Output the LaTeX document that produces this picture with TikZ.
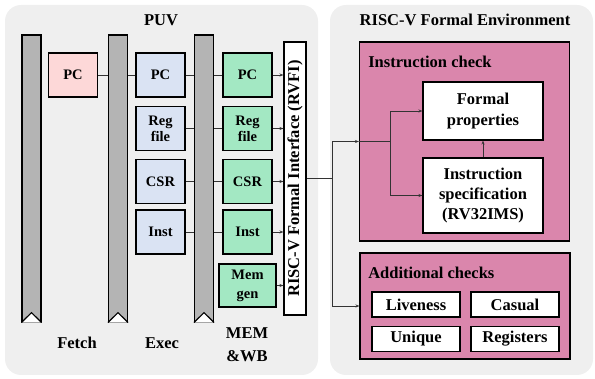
\documentclass[tikz,border=0pt]{standalone}
\usepackage{fontspec}
\setmainfont{Liberation Serif}
\usetikzlibrary{arrows.meta,calc,positioning}
\definecolor{panelgray}{HTML}{EFEFEF}
\definecolor{bargray}{HTML}{B4B4B4}
\definecolor{fetchpink}{HTML}{FDD8D8}
\definecolor{execblue}{HTML}{DAE3F3}
\definecolor{memgreen}{HTML}{A3E8C3}
\definecolor{checkpink}{HTML}{DA86AC}

\begin{document}
\begin{tikzpicture}[x=1pt,y=-1pt,
font=\bfseries\fontsize{16.5}{20}\selectfont,
panel/.style={draw=none,fill=panelgray,rounded corners=16pt,inner sep=0pt},
bar/.style={draw=black,line width=1.1pt,fill=bargray,minimum width=19pt,minimum height=287pt,inner sep=0pt},
reg/.style={draw=black,line width=1.1pt,minimum width=49pt,minimum height=44pt,inner sep=1pt,align=center,font=\bfseries\fontsize{14.5}{16}\selectfont},
fet/.style={reg,fill=fetchpink},
exe/.style={reg,fill=execblue},
mem/.style={reg,fill=memgreen},
chk/.style={draw=black,line width=1.1pt,fill=checkpink,minimum width=210pt,inner sep=0pt},
wbox/.style={draw=black,line width=1.1pt,fill=white,minimum width=120pt,align=center,inner sep=1pt},
sbox/.style={draw=black,line width=1.1pt,fill=white,minimum width=88pt,minimum height=25pt,inner sep=0pt},
wire/.style={draw=black!80,line width=0.8pt},
arr/.style={wire,-{Stealth[length=4pt,width=3pt]}},
semithick]

\useasboundingbox (0,0) rectangle (595,379);

% panels
\node[panel,minimum width=313pt,minimum height=370pt] (puvbox) at (161.5,190) {};
\node[panel,minimum width=263pt,minimum height=370pt] (envbox) at (461.5,190) {};
\node (puvt) at (161,20) {PUV};
\node (envt) at (465,20) {RISC-V Formal Environment};

% pipeline registers
\foreach \name/\x in {bar1/31.5,bar2/118,bar3/204}{
  \node[bar] (\name) at (\x,178.5) {};
  \draw[line width=1.1pt,fill=white] (\name.south west) -- ($(\name.south)+(0,-10)$) -- (\name.south east);
}

% fetch
\node[fet] (fpc) at (73,75) {PC};
% exec
\node[exe] (epc) at (160.5,75) {PC};
\node[exe] (ereg) at (160.5,128.5) {Reg\\file};
\node[exe] (ecsr) at (160.5,181.5) {CSR};
\node[exe] (einst) at (160.5,232) {Inst};
% mem & wb
\node[mem] (mpc) at (247.5,75) {PC};
\node[mem] (mreg) at (247.5,128.5) {Reg\\file};
\node[mem] (mcsr) at (247.5,181.5) {CSR};
\node[mem] (minst) at (247.5,232) {Inst};
\node[mem,minimum width=57pt,minimum height=43pt,font=\bfseries\fontsize{14.5}{19}\selectfont] (mgen) at (247.5,285.5) {Mem\\gen};

% RVFI
\node[draw=black,line width=1.1pt,fill=white,minimum width=273pt,minimum height=22pt,inner sep=0pt,rotate=90] (rvfi) at (295,178.5) {RISC-V Formal Interface (RVFI)};

% stage names
\node (fetch) at (77,343) {Fetch};
\node (exec) at (162,343) {Exec};
\node[align=center,font=\bfseries\fontsize{16.5}{23}\selectfont] (memwb) at (247,345) {MEM\\\&WB};

% wires
\draw[wire] (fpc) -- (fpc -| bar2.west);
\draw[wire] (epc) -- (epc -| bar2.east);
\foreach \e/\m in {epc/mpc,ereg/mreg,ecsr/mcsr,einst/minst}{
  \draw[wire] (\e) -- (\e -| bar3.west);
  \draw[wire] (\m) -- (\m -| bar3.east);
}
\foreach \m in {mpc,mreg,mcsr,minst,mgen}
  \draw[arr] (\m) -- (\m -| rvfi.north);

% checks
\node[chk,minimum height=199pt] (instchk) at (464.5,141.5) {};
\node[anchor=west,inner sep=0pt] (instt) at (368,62) {Instruction check};
\node[wbox,minimum height=58pt,font=\bfseries\fontsize{16.5}{21}\selectfont] (fprop) at (483,111) {Formal\\properties};
\node[wbox,minimum height=75pt] (ispec) at (483,195.5) {Instruction\\specification\\(RV32IMS)};

\node[chk,minimum height=106pt] (addchk) at (465,306) {};
\node[anchor=west,inner sep=0pt] (addt) at (368,273) {Additional checks};
\node[sbox] (live) at (416,304.5) {Liveness};
\node[sbox] (cas) at (515,304.5) {Casual};
\node[sbox] (uniq) at (416,339) {Unique};
\node[sbox] (regs) at (515,339) {Registers};

\coordinate (split) at (332,178);
\coordinate (fork) at (390,141.5);
\draw[wire] (rvfi.south |- split) -- (split);
\draw[arr] (split) |- (instchk.west);
\draw[arr] (split) |- (addchk.west);
\draw[wire] (instchk.west) -- (fork);
\draw[arr] (fork) |- (fprop.west);
\draw[arr] (fork) |- (ispec.west);
\draw[arr] (ispec) -- (fprop);
\end{tikzpicture}
\end{document}
